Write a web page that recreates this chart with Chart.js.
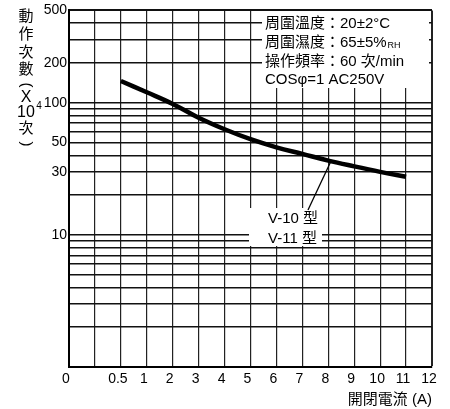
<!DOCTYPE html>
<html>
<head>
<meta charset="utf-8">
<script src="https://cdn.jsdelivr.net/npm/chart.js@4/dist/chart.umd.min.js"></script>
<style>
  body { margin: 0; background: #fff; }
  #wrap { width: 450px; height: 409px; position: relative; }
</style>
</head>
<body>
<div id="wrap"><canvas id="chart"></canvas></div>
<script>
// Tick labels along the bottom; every entry is one vertical gridline.
const xLabels = ['0', '', '0.5', '1', '2', '3', '4', '5', '6', '7', '8', '9', '10', '11', '12'];
// Switching current (A) and operating life (x10^4 operations).
const currents = [0.5, 1, 2, 3, 4, 5, 6, 7, 8, 9, 10, 11];
const life = [146, 120, 98, 77, 63, 53, 46, 41, 36.5, 33, 30, 27.5];
// Log grid and the values that get a label.
const yGrid = [1, 2, 3, 4, 5, 6, 7, 8, 9, 10, 20, 30, 40, 50, 60, 70, 80, 90, 100, 200, 300, 400, 500];
const yLabels = [10, 30, 50, 100, 200, 500];
const conditions = ['周圍溫度：20±2°C', '周圍濕度：65±5%', '操作頻率：60 次/min', 'COSφ=1 AC250V'];

const FONT = "'Liberation Sans', Arial, 'Noto Sans CJK TC', sans-serif";

// position of a current value on the uneven x axis
const pos = (a) => xLabels.indexOf(String(a));

const overlay = {
  id: 'overlay',
  afterDraw(chart) {
    const { ctx, scales: { x, y } } = chart;
    ctx.save();
    ctx.fillStyle = '#000';

    // Vertical y-axis title
    const yTitle = [['動', 17], ['作', 35], ['次', 53], ['數', 70], ['X', 98], ['10', 113], ['次', 129]];
    ctx.textAlign = 'center';
    ctx.textBaseline = 'middle';
    ctx.font = '15px ' + FONT;
    yTitle.forEach(([ch, cy]) => {
      ctx.font = (ch === 'X' || ch === '10') ? '16px ' + FONT : '15px ' + FONT;
      ctx.fillText(ch, 26, cy);
    });
    ctx.font = '10px ' + FONT;
    ctx.fillText('4', 39, 106);
    // rotated brackets
    ctx.font = '15px ' + FONT;
    [['(', 85], [')', 144]].forEach(([ch, cy]) => {
      ctx.save();
      ctx.translate(26, cy);
      ctx.rotate(Math.PI / 2);
      ctx.fillText(ch, 0, 0);
      ctx.restore();
    });

    // Test conditions box
    ctx.fillStyle = '#fff';
    ctx.fillRect(262, 11, 167, 77);
    ctx.fillStyle = '#000';
    ctx.textAlign = 'left';
    ctx.font = '15px ' + FONT;
    const rows = [24, 43, 62, 80];
    conditions.forEach((t, i) => ctx.fillText(t, 265, rows[i]));
    const w1 = ctx.measureText(conditions[1]).width;
    ctx.font = '9px ' + FONT;
    ctx.fillText('RH', 265 + w1 + 1, rows[1] + 3);

    // Model label with leader line
    ctx.fillStyle = '#fff';
    ctx.fillRect(249, 208, 73, 38);
    ctx.fillStyle = '#000';
    ctx.font = '15px ' + FONT;
    ctx.fillText('V-10 型', 268, 219);
    ctx.fillText('V-11 型', 268, 239);

    const sx = x.getPixelForValue(pos(8)) + 3;
    const sy = y.getPixelForValue(36.5);
    ctx.strokeStyle = '#000';
    ctx.lineWidth = 1.3;
    ctx.beginPath();
    ctx.moveTo(sx, sy);
    ctx.lineTo(308, 210);
    ctx.stroke();
    ctx.restore();
  }
};

new Chart(document.getElementById('chart'), {
  type: 'line',
  data: {
    datasets: [{
      data: currents.map((a, i) => ({ x: pos(a), y: life[i] })),
      borderColor: '#000',
      borderWidth: 4.5,
      pointRadius: 0,
      tension: 0.4,
      fill: false
    }]
  },
  options: {
    responsive: true,
    maintainAspectRatio: false,
    animation: false,
    layout: { padding: { top: 9, right: 18, left: 0, bottom: 0 } },
    plugins: { legend: { display: false }, tooltip: { enabled: false } },
    scales: {
      x: {
        type: 'linear',
        min: 0,
        max: xLabels.length - 1,
        afterFit: (s) => { s.height = 42; },
        grid: {
          color: '#222',
          lineWidth: (c) => (c.index === xLabels.length - 1 ? 2 : 1.2),
          drawTicks: false
        },
        border: { color: '#000', width: 2 },
        ticks: {
          stepSize: 1,
          autoSkip: false,
          maxRotation: 0,
          padding: 4,
          labelOffset: -3,
          color: '#000',
          font: { family: FONT, size: 14 },
          callback: (v) => xLabels[v]
        },
        title: {
          display: true,
          text: '開閉電流 (A)',
          align: 'end',
          color: '#000',
          font: { family: FONT, size: 15 },
          padding: { top: 0, bottom: 0 }
        }
      },
      y: {
        type: 'logarithmic',
        min: 1,
        max: 500,
        afterFit: (s) => { s.width = 69; },
        afterBuildTicks: (s) => { s.ticks = yGrid.map((v) => ({ value: v })); },
        grid: {
          color: '#111',
          lineWidth: (c) => (c.index === yGrid.length - 1 ? 2 : 1.5),
          drawTicks: false
        },
        border: { color: '#000', width: 2 },
        ticks: {
          autoSkip: false,
          padding: 2,
          color: '#000',
          font: { family: FONT, size: 14 },
          callback: (v) => (yLabels.includes(v) ? String(v) : '')
        }
      }
    }
  },
  plugins: [overlay]
});
</script>
</body>
</html>
